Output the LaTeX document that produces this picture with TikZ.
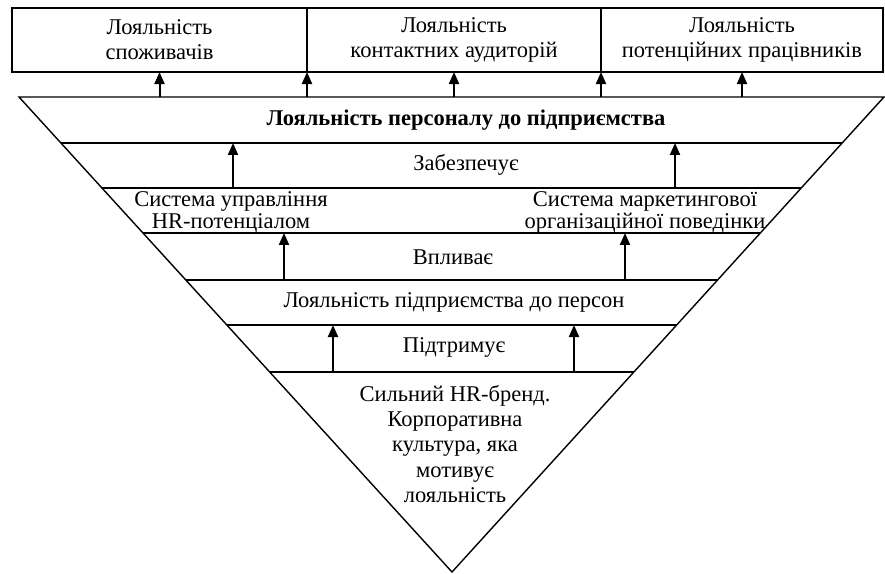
\documentclass[tikz,border=0pt]{standalone}
\usepackage{fontspec}
\setmainfont{Liberation Serif}
\usetikzlibrary{arrows.meta, calc}
\tikzset{
    topbox/.style={rectangle, draw=black, line width=2pt, minimum height=64pt, outer sep=0pt, align=center, font=\fontsize{22.5}{25}\selectfont},
    lbl/.style={align=center, inner sep=0pt, font=\fontsize{22.5}{22}\selectfont},
    uparrow/.style={-{Triangle[length=12pt, width=10pt]}, line width=2pt}
}

\begin{document}
\begin{tikzpicture}[x=1pt, y=-1pt,
  level/.style={line width=1.8pt},
  edge/.style={line width=1.4pt, line join=miter}]
  \useasboundingbox (0,0) rectangle (885,573);
  % upper row of boxes
  \node[topbox, minimum width=295pt] (cust) at (159.5,40) {Лояльність\\споживачів};
  \node[topbox, minimum width=294pt, anchor=west] (aud) at (cust.east) {Лояльність\\контактних аудиторій};
  \node[topbox, minimum width=282pt, anchor=west] (work) at (aud.east) {Лояльність\\потенційних працівників};
  % inverted triangle
  \coordinate (tl) at (19,97);
  \coordinate (tr) at (884,97);
  \coordinate (apex) at (452,572);
  \draw[edge] (tl) -- (tr) -- (apex) -- cycle;
  \foreach \y [count=\i] in {143,188,233,280,325,372} {
    \coordinate (l\i) at ($(tl)!{(\y-97)/475}!(apex)$);
    \coordinate (r\i) at ($(tr)!{(\y-97)/475}!(apex)$);
    \draw[level] (l\i) -- (r\i);
  }
  % arrows to the boxes
  \draw[uparrow] (cust.south |- tl) -- (cust.south);
  \draw[uparrow] (cust.south east |- tl) -- (cust.south east);
  \draw[uparrow] (aud.south |- tl) -- (aud.south);
  \draw[uparrow] (aud.south east |- tl) -- (aud.south east);
  \draw[uparrow] (work.south |- tl) -- (work.south);
  % texts inside
  \node[lbl, font=\fontsize{22.5}{22}\selectfont\bfseries] (pers) at (466,120) {Лояльність персоналу до підприємства};
  \node[lbl] (ensure) at (466,165) {Забезпечує};
  \node[lbl] (hrsys) at (231,212) {Система управління\\HR-потенціалом};
  \node[lbl] (mksys) at (645,212) {Система маркетингової\\організаційної поведінки};
  \node[lbl] (affect) at (453,257) {Впливає};
  \node[lbl] (firm) at (454,302) {Лояльність підприємства до персон};
  \node[lbl] (support) at (454,347) {Підтримує};
  \node[lbl, font=\fontsize{22.5}{25.3}\selectfont] (brand) at (455,444) {Сильний HR-бренд.\\Корпоративна\\культура, яка\\мотивує\\лояльність};
  % arrows between layers
  \coordinate (a1) at (233,0);
  \coordinate (a2) at (675,0);
  \coordinate (b1) at (284,0);
  \coordinate (b2) at (625,0);
  \coordinate (c1) at (333,0);
  \coordinate (c2) at (574,0);
  \draw[uparrow] (a1 |- l2) -- (a1 |- l1);
  \draw[uparrow] (a2 |- l2) -- (a2 |- l1);
  \draw[uparrow] (b1 |- l4) -- (b1 |- l3);
  \draw[uparrow] (b2 |- l4) -- (b2 |- l3);
  \draw[uparrow] (c1 |- l6) -- (c1 |- l5);
  \draw[uparrow] (c2 |- l6) -- (c2 |- l5);
\end{tikzpicture}
\end{document}
